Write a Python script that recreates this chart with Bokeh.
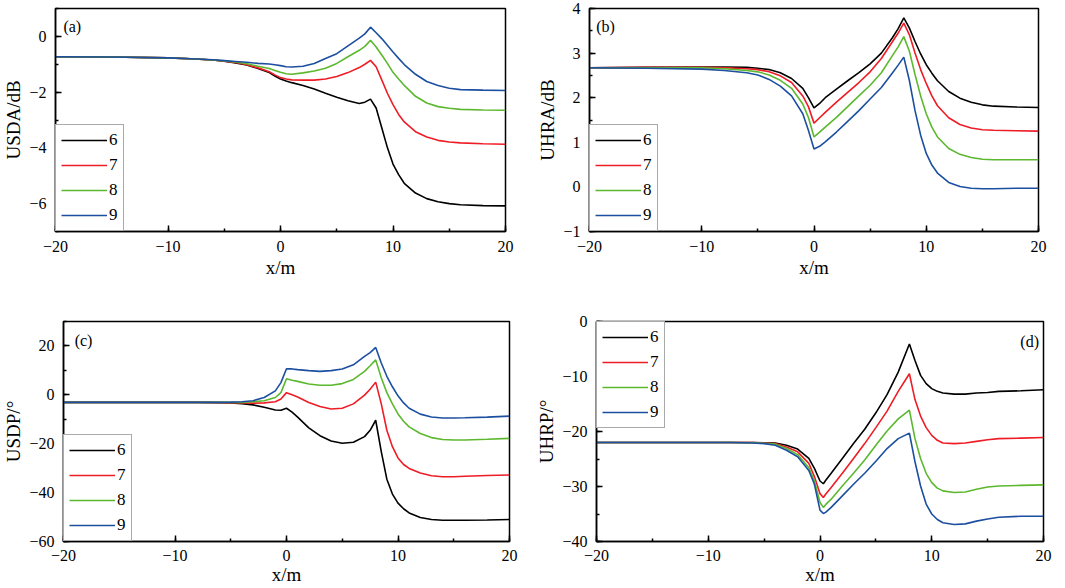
from bokeh.plotting import figure
from bokeh.models import Legend, LegendItem, Label, SingleIntervalTicker, Range1d
from bokeh.layouts import column, row
from bokeh.embed import file_html
from bokeh.resources import INLINE

# ---------------- data ----------------
X = [-20, -15, -10, -8, -6, -5, -4, -3, -2, -1, -0.5, 0, 0.5, 1, 2, 3, 4, 5, 6, 7,
     7.5, 8, 8.5, 9, 9.5, 10, 10.5, 11, 12, 13, 14, 15, 16, 18, 20]
X_d = [-20, -15, -10, -8, -6, -5, -4, -3, -2, -1, -0.5, 0, 0.3, 0.5, 1, 2, 3, 4, 5, 6,
       7, 8, 8.5, 9, 9.5, 10, 10.5, 11, 12, 13, 14, 15, 16, 18, 20]
labels = ["6", "7", "8", "9"]

a_6 = [-0.73, -0.74, -0.77, -0.80, -0.85, -0.89, -0.95, -1.03, -1.15, -1.30, -1.42, -1.53, -1.60, -1.66, -1.76,
       -1.89, -2.04, -2.18, -2.31, -2.41, -2.36, -2.25, -2.57, -3.28, -3.99, -4.58, -4.96, -5.27, -5.62, -5.82,
       -5.93, -6.00, -6.04, -6.07, -6.08]
a_7 = [-0.73, -0.74, -0.77, -0.80, -0.85, -0.89, -0.94, -1.02, -1.13, -1.27, -1.38, -1.48, -1.53, -1.56, -1.57,
       -1.57, -1.53, -1.44, -1.30, -1.12, -1.00, -0.86, -1.09, -1.56, -2.04, -2.45, -2.80, -3.07, -3.42, -3.61,
       -3.73, -3.79, -3.82, -3.85, -3.87]
a_8 = [-0.73, -0.74, -0.77, -0.80, -0.85, -0.88, -0.92, -0.98, -1.07, -1.15, -1.22, -1.29, -1.34, -1.36, -1.31,
       -1.24, -1.14, -0.97, -0.73, -0.50, -0.36, -0.14, -0.38, -0.67, -0.97, -1.29, -1.53, -1.76, -2.15, -2.39,
       -2.52, -2.58, -2.62, -2.64, -2.65]
a_9 = [-0.73, -0.74, -0.77, -0.80, -0.84, -0.87, -0.90, -0.93, -0.97, -0.99, -1.02, -1.05, -1.09, -1.10, -1.07,
       -0.97, -0.79, -0.62, -0.34, -0.06, 0.09, 0.33, 0.13, -0.08, -0.32, -0.56, -0.79, -1.01, -1.36, -1.62,
       -1.76, -1.86, -1.91, -1.93, -1.94]

b_6 = [2.67, 2.68, 2.69, 2.69, 2.68, 2.66, 2.63, 2.56, 2.43, 2.21, 2.00, 1.77, 1.87, 2.00, 2.19,
       2.38, 2.56, 2.76, 3.00, 3.35, 3.55, 3.79, 3.56, 3.26, 2.98, 2.74, 2.55, 2.38, 2.14, 1.99,
       1.90, 1.84, 1.81, 1.79, 1.78]
b_7 = [2.67, 2.68, 2.68, 2.67, 2.65, 2.63, 2.58, 2.49, 2.34, 2.04, 1.80, 1.43, 1.55, 1.67, 1.90,
       2.12, 2.34, 2.58, 2.88, 3.26, 3.45, 3.67, 3.41, 3.00, 2.63, 2.32, 2.04, 1.82, 1.55, 1.40,
       1.32, 1.28, 1.27, 1.26, 1.25]
b_8 = [2.67, 2.67, 2.67, 2.65, 2.61, 2.58, 2.51, 2.39, 2.21, 1.86, 1.56, 1.12, 1.23, 1.34, 1.56,
       1.80, 2.04, 2.28, 2.56, 2.95, 3.14, 3.37, 3.04, 2.52, 2.04, 1.64, 1.34, 1.12, 0.86, 0.73,
       0.66, 0.62, 0.61, 0.61, 0.61]
b_9 = [2.67, 2.66, 2.64, 2.61, 2.56, 2.51, 2.41, 2.26, 2.04, 1.64, 1.27, 0.85, 0.91, 1.01, 1.23,
       1.47, 1.71, 1.97, 2.23, 2.56, 2.73, 2.91, 2.38, 1.71, 1.16, 0.75, 0.49, 0.31, 0.10, 0.01,
       -0.03, -0.04, -0.04, -0.03, -0.03]

c_6 = [-3.1, -3.1, -3.1, -3.1, -3.2, -3.3, -3.6, -4.1, -5.1, -6.2, -6.3, -5.5, -7.1, -9.1, -13.5,
       -16.7, -18.9, -19.8, -19.4, -17.1, -14.5, -10.4, -23.2, -34.5, -40.6, -44.3, -46.6, -48.3, -50.2, -51.0,
       -51.3, -51.3, -51.3, -51.2, -51.0]
c_7 = [-3.1, -3.1, -3.1, -3.1, -3.2, -3.2, -3.3, -3.4, -3.3, -2.8, -1.7, 0.9, 0.0, -0.9, -3.1,
       -4.8, -5.8, -5.5, -3.7, -0.1, 2.3, 5.2, -3.7, -14.5, -21.2, -25.8, -28.5, -30.1, -32.0, -33.1,
       -33.5, -33.5, -33.3, -33.0, -32.8]
c_8 = [-3.1, -3.1, -3.1, -3.1, -3.1, -3.1, -3.1, -2.8, -2.4, -1.1, 0.9, 6.6, 6.0, 5.5, 4.4,
       3.9, 3.9, 4.6, 6.3, 9.6, 11.9, 14.3, 7.0, 0.9, -3.7, -7.8, -10.8, -13.1, -15.8, -17.5,
       -18.3, -18.5, -18.5, -18.2, -17.8]
c_9 = [-3.1, -3.1, -3.1, -3.1, -3.1, -3.0, -2.8, -2.4, -1.1, 1.6, 5.0, 10.7, 10.6, 10.3, 9.9,
       9.6, 9.9, 10.6, 12.3, 15.7, 17.3, 19.4, 13.0, 7.6, 3.3, -0.4, -3.3, -5.5, -7.9, -9.1,
       -9.5, -9.5, -9.4, -9.1, -8.7]

d_6 = [-22.0, -22.0, -22.0, -22.0, -22.0, -22.05, -22.1, -22.5, -23.2, -24.9, -26.7, -29.0, -29.5, -28.9, -27.6,
       -24.9, -22.2, -19.6, -16.6, -13.3, -9.2, -4.1, -7.1, -9.8, -11.3, -12.2, -12.7, -13.0, -13.2, -13.2,
       -13.0, -12.9, -12.7, -12.6, -12.4]
d_7 = [-22.0, -22.0, -22.0, -22.0, -22.0, -22.1, -22.2, -22.8, -23.7, -25.8, -28.2, -31.3, -32.0, -31.4, -30.2,
       -27.6, -24.9, -22.2, -19.3, -16.3, -12.7, -9.5, -14.2, -17.2, -19.3, -20.7, -21.6, -22.1, -22.2, -22.1,
       -21.8, -21.5, -21.3, -21.2, -21.1]
d_8 = [-22.0, -22.0, -22.0, -22.0, -22.05, -22.15, -22.3, -23.1, -24.2, -26.6, -29.0, -32.9, -33.8, -33.3, -32.3,
       -29.9, -27.6, -25.2, -22.5, -19.9, -17.7, -16.1, -21.3, -24.9, -27.6, -29.3, -30.3, -30.8, -31.1, -31.0,
       -30.5, -30.1, -29.9, -29.8, -29.7]
d_9 = [-22.0, -22.0, -22.0, -22.0, -22.1, -22.2, -22.5, -23.4, -24.6, -27.1, -29.6, -34.3, -34.9, -34.7, -33.8,
       -31.7, -29.6, -27.6, -25.4, -23.1, -21.3, -20.3, -25.5, -29.9, -33.2, -35.0, -36.0, -36.6, -36.9, -36.8,
       -36.3, -35.9, -35.6, -35.4, -35.4]

COLORS = ["#000000", "#ee1c25", "#5cb82e", "#1c4fa0"]
SERIF = "Liberation Serif"


def panel(x, series, ylab, yr, yint, tag, tag_xy, tag_align, legend_loc,
          width, height, bl, br, bt, bb, x_std=9, xl_std=2):
    p = figure(width=width, height=height, x_range=Range1d(-20, 20), y_range=Range1d(*yr),
               output_backend="svg", toolbar_location=None,
               min_border_left=bl, min_border_right=br, min_border_top=bt, min_border_bottom=bb)
    p.grid.visible = False
    p.outline_line_color = "black"
    p.outline_line_width = 1.5
    p.background_fill_color = "white"
    p.border_fill_color = "white"
    p.xaxis.ticker = SingleIntervalTicker(interval=10, num_minor_ticks=2)
    p.yaxis.ticker = SingleIntervalTicker(interval=yint, num_minor_ticks=2)
    p.xaxis.axis_label = "x/m"
    p.yaxis.axis_label = ylab
    for ax in p.axis:
        ax.major_tick_in = 6
        ax.major_tick_out = 0
        ax.minor_tick_in = 3
        ax.minor_tick_out = 0
        ax.axis_line_width = 1.5
        ax.major_tick_line_width = 1.5
        ax.minor_tick_line_width = 1.5
        ax.major_label_text_font = SERIF
        ax.major_label_text_font_size = "16px"
        ax.major_label_text_color = "black"
        ax.axis_label_text_font = SERIF
        ax.axis_label_text_font_size = "19px"
        ax.axis_label_text_font_style = "normal"
        ax.axis_label_text_color = "black"
        ax.major_label_standoff = 9
        ax.axis_label_standoff = 2
    p.xaxis.major_label_standoff = x_std
    p.xaxis.axis_label_standoff = xl_std
    items = []
    for lab, ys, col in zip(labels, series, COLORS):
        r = p.line(x, ys, line_color=col, line_width=1.6)
        items.append(LegendItem(label=lab, renderers=[r]))
    leg = Legend(items=items, location=legend_loc, margin=0, padding=5, spacing=5,
                 glyph_width=46, glyph_height=20, label_height=20, label_width=9,
                 label_standoff=2,
                 label_text_font=SERIF, label_text_font_size="17px", label_text_color="black",
                 border_line_color="#555555", border_line_width=1,
                 background_fill_color="white", background_fill_alpha=1)
    p.add_layout(leg)
    p.add_layout(Label(x=tag_xy[0], y=tag_xy[1], text=tag, text_baseline="top",
                       text_align=tag_align, text_font=SERIF, text_font_size="16px",
                       text_color="black"))
    return p


pa = panel(X, [a_6, a_7, a_8, a_9], "USDA/dB", (-7, 1), 2, "(a)", (-19.3, 0.65), "left",
           "bottom_left", 530, 290, 52, 25, 8, 59)
pb = panel(X, [b_6, b_7, b_8, b_9], "UHRA/dB", (-1, 4), 1, "(b)", (-19.4, 3.78), "left",
           "bottom_left", 532, 290, 59, 24, 8, 59)
pc = panel(X, [c_6, c_7, c_8, c_9], "USDP/°", (-60, 30), 20, "(c)", (-19.0, 25.6), "left",
           "bottom_left", 530, 297, 56, 21, 28, 44, x_std=8, xl_std=0)
pd = panel(X_d, [d_6, d_7, d_8, d_9], "UHRP/°", (-40, 0), 10, "(d)", (19.6, -2.0), "right",
           "top_left", 532, 297, 66, 19, 31, 44, x_std=8, xl_std=0)

layout = column(row(pa, pb), row(pc, pd))
open("out.html", "w").write(file_html(layout, INLINE))
